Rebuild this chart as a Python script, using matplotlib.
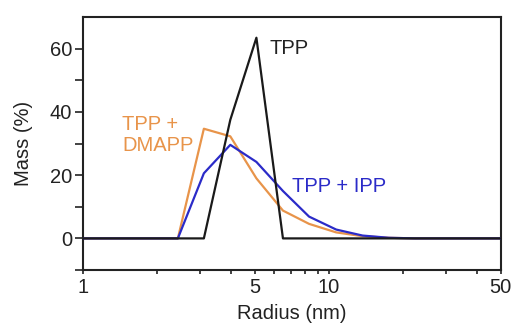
import numpy as np
import matplotlib.pyplot as plt
from matplotlib.ticker import FixedLocator, NullFormatter, NullLocator

plt.rcParams['font.family'] = ['Liberation Sans', 'DejaVu Sans']

radius = [1.0, 2.43, 3.1, 3.97, 5.07, 6.5, 8.3, 10.7, 13.7, 17.5, 22.4, 28.7, 36.7, 50.0]
tpp = [0, 0, 0, 37.5, 63.5, 0, 0, 0, 0, 0, 0, 0, 0, 0]
tpp_dmapp = [0, 0, 34.7, 32.3, 19.0, 8.8, 4.6, 1.9, 0.7, 0.2, 0, 0, 0, 0]
tpp_ipp = [0, 0, 20.6, 29.6, 24.2, 15.0, 6.9, 2.8, 0.9, 0.2, 0, 0, 0, 0]

orange = '#E8944A'
blue = '#2B2BC8'
fs = 14.5

fig = plt.figure(figsize=(5.19, 3.34), dpi=100)
ax = fig.add_axes([0.160, 0.1916, 0.805, 0.757])

ax.plot(radius, tpp_ipp, color=blue, lw=1.6, zorder=3)
ax.plot(radius, tpp_dmapp, color=orange, lw=1.6, zorder=2)
ax.plot(radius, tpp, color='#1a1a1a', lw=1.6, zorder=4)

ax.set_xscale('log')
ax.set_xlim(1, 50)
ax.set_ylim(-10, 70)

ax.xaxis.set_major_locator(FixedLocator([1, 5, 10, 50]))
ax.xaxis.set_minor_locator(FixedLocator([2, 3, 4, 6, 7, 8, 9, 20, 30, 40]))
ax.xaxis.set_major_formatter(plt.FixedFormatter(['1', '5', '10', '50']))
ax.xaxis.set_minor_formatter(NullFormatter())
ax.set_yticks([0, 20, 40, 60])
ax.yaxis.set_minor_locator(FixedLocator([-10, 10, 30, 50]))

ax.tick_params(axis='x', which='both', direction='out', length=3, width=1.2,
               labelsize=fs, colors='#222222', pad=3)
ax.tick_params(axis='y', which='both', direction='out', length=6, width=1.2,
               labelsize=fs, colors='#222222', pad=2)
for s in ax.spines.values():
    s.set_linewidth(1.5)
    s.set_color('#222222')

ax.set_xlabel('Radius (nm)', fontsize=fs, color='#222222', labelpad=5)
ax.set_ylabel('Mass (%)', fontsize=fs, color='#222222', labelpad=12)

ax.text(5.75, 60, 'TPP', fontsize=fs, color='#222222', va='center', ha='left')
ax.text(1.44, 26.5, 'TPP +\nDMAPP', fontsize=fs, color=orange, va='bottom', ha='left',
        linespacing=1.1)
ax.text(7.1, 16.3, 'TPP + IPP', fontsize=fs, color=blue, va='center', ha='left')

fig.savefig('out.png', dpi=100)
